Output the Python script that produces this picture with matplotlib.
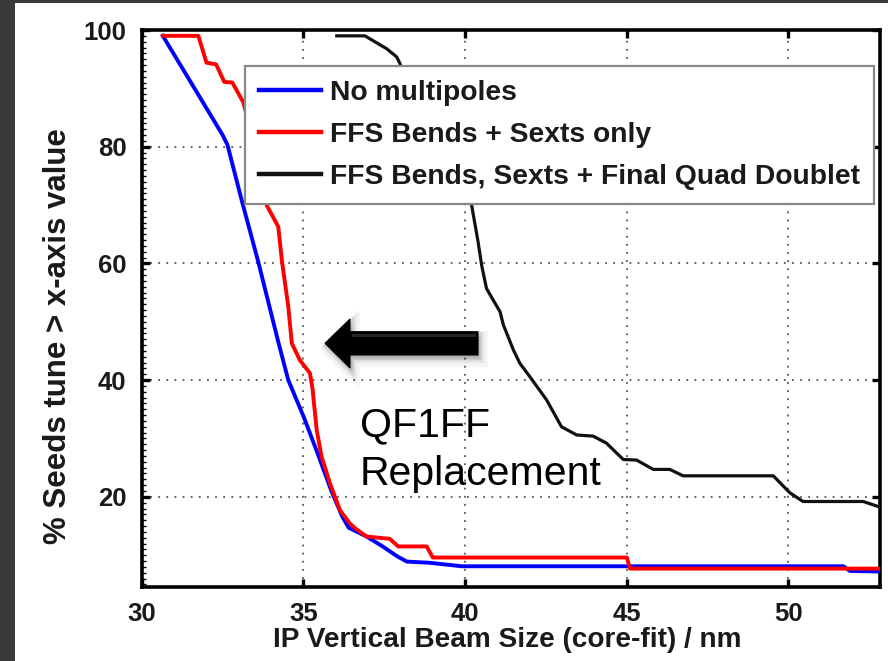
import matplotlib
matplotlib.use("Agg")
import matplotlib.pyplot as plt
from matplotlib.patches import Polygon, Rectangle
from matplotlib.ticker import MultipleLocator

plt.rcParams['font.family'] = ['Liberation Sans', 'DejaVu Sans']

# Cumulative tuning curves: % of seeds whose tuned beam size exceeds x
no_mult_x = [30.65, 32.5, 32.65, 33.1, 33.6, 34.2, 34.53, 35.0, 35.4, 35.85, 36.2, 36.4,
             36.95, 37.45, 37.9, 38.2, 38.9, 39.9, 51.7, 51.9, 52.85]
no_mult_y = [99, 82, 80.3, 70.6, 60.3, 47.0, 40.0, 33.8, 28.0, 21.2, 16.6, 14.7,
             13.2, 11.5, 9.8, 8.9, 8.7, 8.1, 8.1, 7.3, 7.2]

bends_sext_x = [30.65, 31.75, 32.0, 32.3, 32.55, 32.8, 33.14, 33.45, 33.75, 33.86, 34.22,
                34.33, 34.53, 34.64, 34.89, 35.2, 35.28, 35.41, 35.56, 35.82, 36.13,
                36.44, 36.6, 36.95, 37.67, 37.93, 38.81, 39.0, 45.0, 45.1, 52.85]
bends_sext_y = [99, 99, 94.4, 94.1, 91.1, 91.0, 87.6, 81.0, 74.0, 70.0, 66.3,
                60.6, 52.6, 46.3, 43.4, 41.2, 38.5, 31.4, 26.9, 22.3, 17.7,
                15.4, 14.6, 13.2, 12.8, 11.5, 11.5, 9.6, 9.6, 7.7, 7.7]

with_fqd_x = [36.03, 36.9, 37.57, 37.88, 37.98, 38.3, 38.8, 39.4, 39.9, 40.2, 40.4, 40.51,
              40.66, 41.08, 41.18, 41.49, 41.69, 42.0, 42.52, 42.98, 43.45, 43.96, 44.37,
              44.89, 45.3, 45.82, 46.33, 46.74, 49.53, 50.04, 50.45, 52.31, 52.85]
with_fqd_y = [99, 99, 96.8, 95.4, 94.3, 89, 83, 77, 73, 70, 63.7, 59.7,
              55.7, 51.7, 49.5, 45.2, 42.9, 40.6, 36.6, 32.0, 30.6, 30.4, 29.2,
              26.4, 26.3, 24.7, 24.7, 23.6, 23.6, 20.7, 19.2, 19.2, 18.2]

series_labels = ["No multipoles", "FFS Bends + Sexts only",
                 "FFS Bends, Sexts + Final Quad Doublet"]
x_ticks = [30, 35, 40, 45, 50]
y_ticks = [20, 40, 60, 80, 100]

W, H = 888, 661
fig = plt.figure(figsize=(W / 100, H / 100), dpi=100)
fig.patch.set_facecolor('white')


def fpt(px, py):
    return (px / W, 1 - py / H)


# dark surround
dark = '#3a3a3a'
fig.patches.append(Rectangle((0, 0), 15 / W, 1, transform=fig.transFigure,
                             facecolor=dark, edgecolor='none', zorder=0))
fig.patches.append(Rectangle((0, 1 - 2.5 / H), 1, 2.5 / H, transform=fig.transFigure,
                             facecolor=dark, edgecolor='none', zorder=0))

ax_l, ax_r, ax_t, ax_b = 141.8, 880.0, 30.0, 586.7
ax = fig.add_axes([ax_l / W, 1 - ax_b / H, (ax_r - ax_l) / W, (ax_b - ax_t) / H])

ax.plot(no_mult_x, no_mult_y, color='#0000ff', lw=2.8, label=series_labels[0], zorder=3)
ax.plot(bends_sext_x, bends_sext_y, color='#ff0000', lw=2.8, label=series_labels[1], zorder=3)
ax.plot(with_fqd_x, with_fqd_y, color='#111111', lw=2.3, label=series_labels[2], zorder=3)

ax.set_xlim(30, 52.83)
ax.set_ylim(4.6, 100)
ax.set_xticks(x_ticks)
ax.set_yticks(y_ticks)
ax.yaxis.set_minor_locator(MultipleLocator(1))

for s in ax.spines.values():
    s.set_linewidth(2.6)
    s.set_color('black')

ax.tick_params(which='major', direction='in', length=6, width=2.4, top=True, right=True,
               labelsize=18.5, pad=11, colors='black')
ax.tick_params(which='minor', direction='in', length=3, width=1.0, left=True, right=False)
for lab in ax.get_xticklabels() + ax.get_yticklabels():
    lab.set_fontweight('bold')
    lab.set_color('#1a1a1a')
ax.grid(True, which='major', linestyle=(0, (1, 3.5)), color='#555555', lw=1.3)
ax.set_axisbelow(True)

leg = ax.legend(loc='upper left',
                bbox_to_anchor=((245 - ax_l) / (ax_r - ax_l), (ax_b - 66) / (ax_b - ax_t)),
                borderaxespad=0, prop={'size': 20.3, 'weight': 'bold'},
                handlelength=2.2, handletextpad=0.3, borderpad=0.5, labelspacing=0.56,
                fancybox=False, framealpha=1)
leg.get_frame().set_edgecolor('#888888')
leg.get_frame().set_linewidth(1.6)
for t in leg.get_texts():
    t.set_color('#1a1a1a')
for ln in leg.get_lines():
    ln.set_linewidth(3.2)

# axis labels
fig.text(*fpt(58, 336), "% Seeds tune > x-axis value", rotation=90,
         ha='center', va='center', fontsize=22.5, fontweight='bold', color='#1a1a1a')
fig.text(*fpt(507, 640), "IP Vertical Beam Size (core-fit) / nm",
         ha='center', va='center', fontsize=20.2, fontweight='bold', color='#1a1a1a')

# annotation arrow with soft shadow
arrow_px = [(325, 343.3), (350, 319), (350, 331.7), (478, 331.7),
            (478, 355), (350, 355), (350, 368)]
for off, a in [(6, 0.04), (4, 0.06), (2.5, 0.08)]:
    shadow = [fpt(x + off * 0.6, y + off) for x, y in arrow_px]
    fig.patches.append(Polygon(shadow, closed=True, transform=fig.transFigure,
                               facecolor='black', edgecolor='black', lw=off * 1.5,
                               alpha=a, zorder=5))
fig.patches.append(Polygon([fpt(x, y) for x, y in arrow_px], closed=True,
                           transform=fig.transFigure, facecolor='black',
                           edgecolor='black', lw=0.8, zorder=6))
fig.patches.append(Polygon([fpt(x, y) for x, y in [(352, 333.5), (476, 333.5),
                                                    (476, 337), (352, 337)]],
                           closed=True, transform=fig.transFigure,
                           facecolor='#262626', edgecolor='none', zorder=7))

fig.text(*fpt(360, 436), "QF1FF", fontsize=29.5, va='baseline', ha='left', color='black')
fig.text(*fpt(360, 485), "Replacement", fontsize=29.5, va='baseline', ha='left', color='black')

fig.savefig('out.png', dpi=100, facecolor=fig.get_facecolor())
